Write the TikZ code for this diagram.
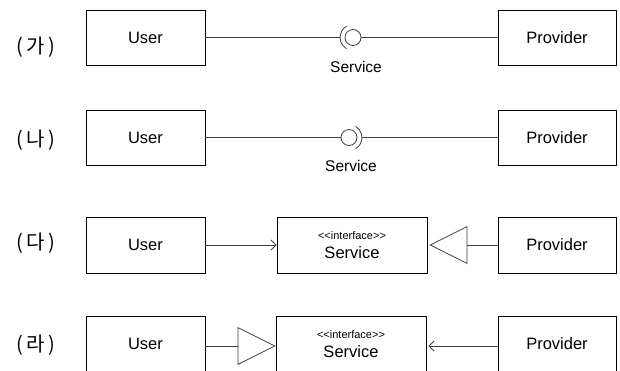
\documentclass[tikz,border=0pt]{standalone}
\usepackage{fontspec}
\setmainfont{Liberation Sans}
\newfontfamily\krfont{Noto Sans CJK KR}
\usetikzlibrary{arrows.meta}
\definecolor{linegray}{HTML}{404040}
\tikzset{
  box/.style={draw=black, line width=0.9pt, minimum height=55pt, inner sep=0pt, font=\fontsize{16.5}{18}\selectfont},
  conn/.style={draw=linegray, line width=0.8pt},
  ball/.style={circle, draw=linegray, line width=0.8pt, minimum size=16pt, inner sep=0pt},
  rowlab/.style={font=\krfont\fontsize{20}{22}\selectfont},
  slabel/.style={font=\fontsize{15.5}{17}\selectfont},
  openarr/.style={-{Straight Barb[length=5pt,width=10pt,line width=0.8pt]}},
  realize/.style={-{Triangle[open,length=38pt,width=38pt,line width=0.8pt]}}
}
\newcommand{\ifacelabel}{{\fontsize{11}{12}\selectfont <\kern0pt<interface>\kern0pt>}}
\begin{document}
\begin{tikzpicture}[x=1pt,y=-1pt]
\useasboundingbox (0,0) rectangle (620,370);
\clip (0,0) rectangle (620,370);
\fill[white] (0,0) rectangle (620,370);

% row labels
\node[rowlab] (r1) at (36,47) {(\,가\,)};
\node[rowlab] (r2) at (36,140) {(\,나\,)};
\node[rowlab] (r3) at (36,243) {(\,다\,)};
\node[rowlab] (r4) at (36,345) {(\,라\,)};

% row 1
\node[box, minimum width=119pt] (u1) at (145.5,37.5) {User};
\node[box, minimum width=118pt] (p1) at (557,37.5) {Provider};
\node[ball] (c1) at (353,37.5) {};
\coordinate (s1) at (340,37.5);
\draw[conn] ([shift={(120:13)}]c1.center) arc (120:240:13);
\draw[conn] (u1.east) -- (s1);
\draw[conn] (c1.east) -- (p1.west);
\node[slabel] (l1) at (356,67) {Service};

% row 2
\node[box, minimum width=119pt] (u2) at (145.5,137.5) {User};
\node[box, minimum width=118pt] (p2) at (557,137.5) {Provider};
\node[ball] (c2) at (349,137.5) {};
\coordinate (s2) at (362,137.5);
\draw[conn] ([shift={(-60:13)}]c2.center) arc (-60:60:13);
\draw[conn] (u2.east) -- (c2.west);
\draw[conn] (s2) -- (p2.west);
\node[slabel] (l2) at (351,166) {Service};

% row 3
\node[box, minimum width=119pt, minimum height=56pt] (u3) at (145.5,245) {User};
\node[box, minimum width=118pt, minimum height=56pt] (p3) at (557,245) {Provider};
\node[box, minimum width=150pt, minimum height=56pt, align=center] (i3) at (352,245)
  {\ifacelabel\\[1pt]Service};
\draw[conn, openarr] (u3.east) -- (i3.west);
\draw[conn, realize] (p3.west) -- ([xshift=2pt]i3.east);

% row 4
\node[box, minimum width=119pt, minimum height=56pt] (u4) at (145.5,344) {User};
\node[box, minimum width=118pt, minimum height=56pt] (p4) at (557,344) {Provider};
\node[box, minimum width=150pt, minimum height=56pt, align=center] (i4) at (351,344)
  {\ifacelabel\\[1pt]Service};
\draw[conn, realize] ([yshift=-2pt]u4.east) -- ([yshift=-2pt]i4.west);
\draw[conn, openarr] ([yshift=-2pt]p4.west) -- ([xshift=2pt,yshift=-2pt]i4.east);
\end{tikzpicture}
\end{document}
